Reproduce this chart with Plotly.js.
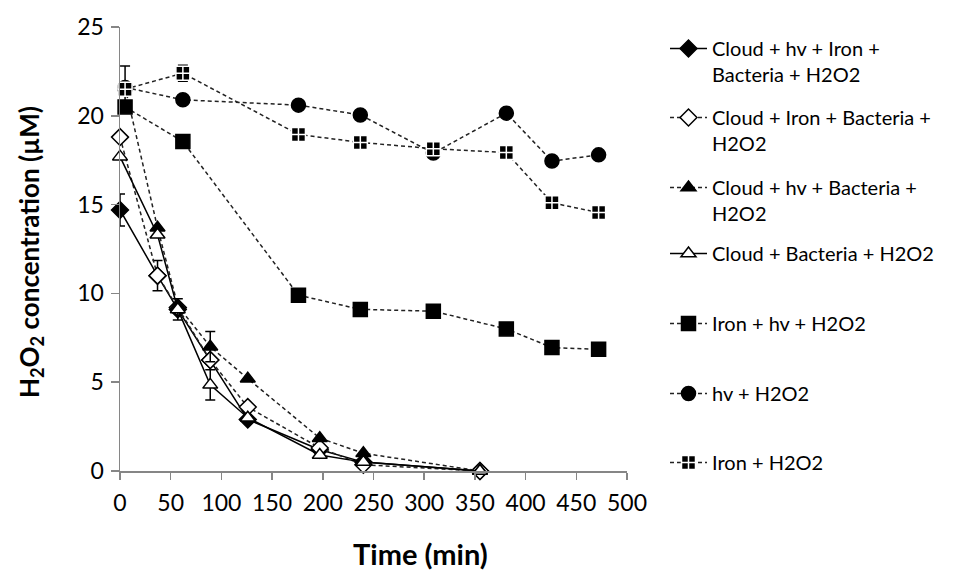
<!DOCTYPE html>
<html><head><meta charset="utf-8">
<script src="https://cdn.plot.ly/plotly-3.0.1.min.js"></script>
<style>html,body{margin:0;padding:0;background:#fff}#chart{width:954px;height:574px}</style>
</head><body><div id="chart"></div>
<script>
// ---- data ----
const names = [
  "Cloud + hv + Iron +<br>Bacteria + H2O2",
  "Cloud + Iron + Bacteria +<br>H2O2",
  "Cloud + hv + Bacteria +<br>H2O2",
  "Cloud + Bacteria + H2O2",
  "Iron + hv + H2O2",
  "hv + H2O2",
  "Iron + H2O2"
];
const tCloudHvIronBact = [0, 37, 57, 89, 126, 197, 240, 355];
const yCloudHvIronBact = [14.7, 11.0, 9.1, 6.25, 2.9, 1.2, 0.5, 0];
const eCloudHvIronBact = [0.9, null, null, null, null, null, null, null];

const tCloudIronBact = [0, 37, 57, 89, 126, 197, 240, 355];
const yCloudIronBact = [18.8, 11.0, 9.2, 6.25, 3.6, 1.3, 0.35, 0];
const eCloudIronBact = [null, 0.85, null, null, null, null, null, null];

const tCloudHvBact = [5, 37, 57, 89, 126, 197, 240, 355];
const yCloudHvBact = [21.6, 13.7, 9.3, 7.0, 5.2, 1.85, 1.0, 0];
const eCloudHvBact = [1.2, null, null, 0.85, null, null, null, null];

const tCloudBact = [0, 37, 57, 89, 126, 197, 240, 355];
const yCloudBact = [17.7, 13.3, 9.1, 4.85, 3.0, 0.9, 0.5, 0];
const eCloudBact = [null, null, 0.6, 0.85, null, null, null, null];

const tControls = [5, 62, 176, 237, 309, 381, 426, 472];
const yIronHv = [20.5, 18.55, 9.9, 9.1, 9.0, 8.0, 6.95, 6.85];
const yHv = [21.6, 20.9, 20.6, 20.05, 17.9, 20.15, 17.45, 17.8];
const yIron = [21.5, 22.4, 18.95, 18.5, 18.15, 17.93, 15.1, 14.55];
const eIron = [null, 0.45, null, null, null, null, null, null];

const xTicks = [0, 50, 100, 150, 200, 250, 300, 350, 400, 450, 500];
const yTicks = [0, 5, 10, 15, 20, 25];

// ---- styles ----
const FONT = "Lato, 'Open Sans', sans-serif";
const DASH = "4px,3px";
function err(arr) {
  return {type: 'data', array: arr.map(v => v === null ? NaN : v), visible: true,
          color: '#000', thickness: 1.5, width: 5};
}
function tr(x, y, name, lg, dash, lineColor, symbol, size, fill, outline, e) {
  const t = {
    x: x, y: y, name: name, legend: lg, type: 'scatter', mode: 'lines+markers',
    cliponaxis: false,
    line: {color: lineColor, width: 1.5, dash: dash},
    marker: {symbol: symbol, size: size, color: fill, line: {color: outline, width: 1.5}}
  };
  if (e) t.error_y = err(e);
  return t;
}
const data = [
  tr(tCloudHvIronBact, yCloudHvIronBact, names[0], 'legend', 'solid', '#000', 'diamond', 13, '#000', '#000', eCloudHvIronBact),
  tr(tCloudIronBact, yCloudIronBact, names[1], 'legend2', DASH, '#222', 'diamond', 13, '#fff', '#000', eCloudIronBact),
  tr(tCloudHvBact, yCloudHvBact, names[2], 'legend3', DASH, '#222', 'triangle-up', 13, '#000', '#000', eCloudHvBact),
  tr(tCloudBact, yCloudBact, names[3], 'legend4', 'solid', '#000', 'triangle-up', 13, '#fff', '#000', eCloudBact),
  tr(tControls, yIronHv, names[4], 'legend5', DASH, '#222', 'square', 14, '#000', '#000', null),
  tr(tControls, yHv, names[5], 'legend6', DASH, '#222', 'circle', 14, '#000', '#000', null),
  tr(tControls, yIron, names[6], 'legend7', DASH, '#222', 'square-cross', 14, '#000', '#fff', eIron)
];

const L = 120, R = 327, T = 27, B = 103;
const plotH = 574 - T - B, plotW = 954 - L - R;
function py(px) { return (574 - B - px) / plotH; }
function px(xpx) { return (xpx - L) / plotW; }
function leg(topPx) {
  return {x: px(665), xanchor: 'left', y: py(topPx), yanchor: 'top',
          font: {family: FONT, size: 20, color: '#000'}, bgcolor: 'rgba(0,0,0,0)',
          borderwidth: 0, itemwidth: 37, valign: 'top', tracegroupgap: 0};
}
const legTops = [29, 98, 168, 234, 304, 374, 443];

const layout = {
  width: 954, height: 574,
  margin: {l: L, r: R, t: T, b: B, pad: 0},
  paper_bgcolor: '#fff', plot_bgcolor: '#fff',
  font: {family: FONT, size: 22, color: '#000'},
  showlegend: true,
  xaxis: {range: [0, 500], tickvals: xTicks, ticktext: xTicks.map(String), ticks: 'outside', ticklen: 7,
          tickcolor: '#868686', tickwidth: 1.5, showline: true, linecolor: '#868686', linewidth: 1.5,
          showgrid: false, zeroline: false, ticklabelstandoff: 4,
          tickfont: {family: FONT, size: 23, color: '#000'}, fixedrange: true},
  yaxis: {range: [0, 25], tickvals: yTicks, ticktext: yTicks.map(String), ticks: 'outside', ticklen: 8,
          tickcolor: '#868686', tickwidth: 1.5, showline: true, linecolor: '#868686', linewidth: 1.5,
          showgrid: false, zeroline: false, ticklabelstandoff: 2,
          tickfont: {family: FONT, size: 23, color: '#000'}, fixedrange: true},
  annotations: [
    {text: '<b>Time (min)</b>', xref: 'paper', yref: 'paper', x: px(420), y: py(553),
     xanchor: 'center', yanchor: 'middle', showarrow: false, font: {family: FONT, size: 29, color: '#000'}},
    {text: '<b>H<sub>2</sub>O<sub>2</sub> concentration (µM)</b>', xref: 'paper', yref: 'paper',
     x: px(30), y: py(252), xanchor: 'center', yanchor: 'middle', textangle: -90, showarrow: false,
     font: {family: FONT, size: 26, color: '#000'}}
  ]
};
const legKeys = ['legend', 'legend2', 'legend3', 'legend4', 'legend5', 'legend6', 'legend7'];
legKeys.forEach((k, i) => { layout[k] = leg(legTops[i]); });

Plotly.newPlot('chart', data, layout, {displayModeBar: false, staticPlot: true});
</script>
</body></html>
